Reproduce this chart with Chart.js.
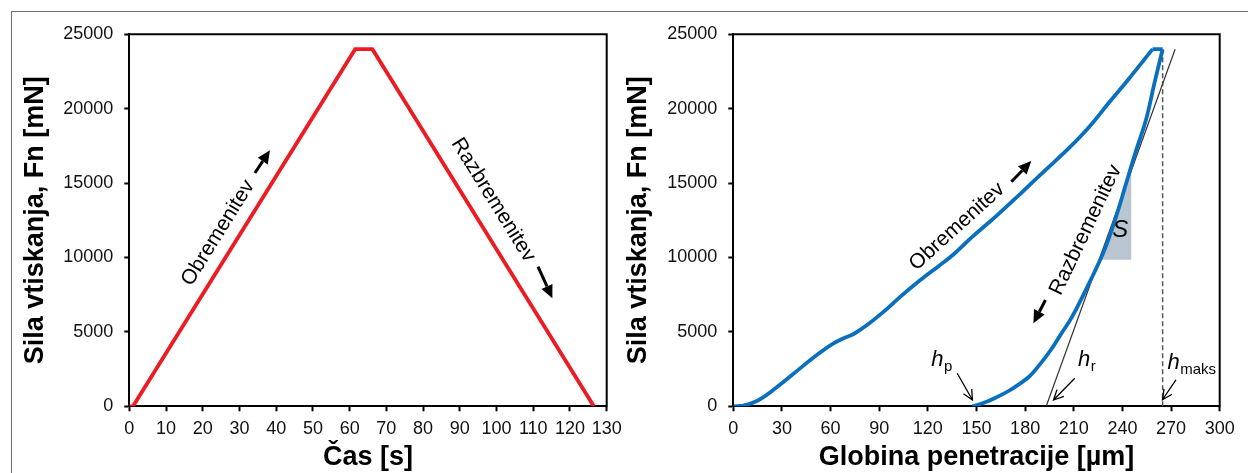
<!DOCTYPE html>
<html><head><meta charset="utf-8">
<script src="https://cdn.jsdelivr.net/npm/chart.js@4"></script>
<style>
html,body{margin:0;padding:0;background:#fff;}
#wrap{position:relative;width:1248px;height:473px;overflow:hidden;background:#fff;}
#frame{position:absolute;left:11px;top:11px;width:1400px;height:700px;border:1px solid #707070;}
.cv{position:absolute;top:0;}
</style></head><body>
<div id="wrap"><div id="frame"></div>
<canvas id="c1" class="cv" width="622" height="473" style="left:0;width:622px;height:473px"></canvas>
<canvas id="c2" class="cv" width="626" height="473" style="left:622px;width:626px;height:473px"></canvas>
</div>
<script>
// ---------------- data ----------------
const timeS        = [0, 1, 61.5, 66.2, 126.5];
const forceTimeMN  = [0, 0, 24000, 24000, 0];
const timeTicks    = [0,10,20,30,40,50,60,70,80,90,100,110,120,130];
const forceTicks   = [0,5000,10000,15000,20000,25000];
const depthTicks   = [0,30,60,90,120,150,180,210,240,270,300];

const loadDepthUm  = [0, 6, 12.4, 18.6, 24, 29.9, 41.2, 51.5, 61.8, 68, 74.2, 82.5, 92.8, 103.1, 115, 127, 135.2, 147.5, 162.3, 177.2, 192, 206.8, 219.2, 231.5, 243.9, 258.6];
const loadForceMN  = [0, 40, 250, 620, 1050, 1545, 2550, 3450, 4230, 4570, 4860, 5460, 6360, 7370, 8450, 9450, 10150, 11400, 12800, 14300, 15820, 17330, 18740, 20380, 22000, 24000];
const holdDepthUm  = [258.6, 264.8];
const holdForceMN  = [24000, 24000];
const unloadDepthUm= [264.8, 259.5, 254.5, 248.5, 242.3, 236.1, 228.9, 219.4, 209, 201.8, 195.8, 188.6, 182.4, 170.8, 162.2, 155, 147.5];
const unloadForceMN= [24000, 21600, 19240, 17224, 14987, 12743, 10504, 8266, 6022, 4800, 3784, 2750, 1989, 1095, 600, 250, 0];
const tangentDepthUm = [193, 272.5];
const tangentForceMN = [0, 24000];
const hmaxDepthUm  = [264.8, 264.8];
const hmaxForceMN  = [0, 24000];
const stiffDepthUm = [226.6, 245.6];
const stiffForceMN = [9850, 15880];
const stiffBaseMN  = 9850;

// ---------------- helpers ----------------
const FONT = "'Liberation Sans', Arial, Helvetica, sans-serif";
const pts = (xs, ys) => xs.map((x, i) => ({x: x, y: ys[i]}));

function axisX(min, max, tickVals, title, height) {
  return {
    type: 'linear', position: 'bottom', min: min, max: max,
    afterBuildTicks: s => { s.ticks = tickVals.map(v => ({value: v})); },
    afterFit: s => { s.height = height; s.paddingLeft = 0; s.paddingRight = 0; },
    ticks: { autoSkip: false, maxRotation: 0, padding: 7, color: '#111', font: {family: FONT, size: 18}, callback: v => String(v) },
    grid: { display: true, drawOnChartArea: false, drawTicks: true, tickLength: 5, tickWidth: 2, tickColor: '#000' },
    border: { display: true, color: '#000', width: 2 },
    title: { display: true, text: title, color: '#000', font: {family: FONT, size: 27, weight: 'bold', lineHeight: 1}, padding: {top: 0, bottom: 2} }
  };
}
function axisY(min, max, tickVals, title, width, titlePad) {
  return {
    type: 'linear', position: 'left', min: min, max: max,
    afterBuildTicks: s => { s.ticks = tickVals.map(v => ({value: v})); },
    afterFit: s => { s.width = width; },
    ticks: { autoSkip: false, padding: 11, color: '#111', font: {family: FONT, size: 18}, callback: v => String(v) },
    grid: { display: true, drawOnChartArea: false, drawTicks: true, tickLength: 5, tickWidth: 2, tickColor: '#000' },
    border: { display: true, color: '#000', width: 2 },
    title: { display: true, text: title, color: '#000', font: {family: FONT, size: 27, weight: 'bold', lineHeight: 1}, padding: {top: titlePad, bottom: 0} }
  };
}

const boxPlugin = {
  id: 'box',
  afterDraw(chart) {
    const {ctx, chartArea: a} = chart;
    ctx.save(); ctx.strokeStyle = '#000'; ctx.lineWidth = 2;
    ctx.beginPath(); ctx.moveTo(a.left - 1, a.top); ctx.lineTo(a.right, a.top); ctx.lineTo(a.right, a.bottom + 1); ctx.stroke();
    ctx.restore();
  }
};

function P(chart, x, y) { return [chart.scales.x.getPixelForValue(x), chart.scales.y.getPixelForValue(y)]; }
function rotText(ctx, text, x, y, ang, font) {
  ctx.save(); ctx.translate(x, y); ctx.rotate(ang); ctx.font = font; ctx.fillStyle = '#000';
  ctx.textAlign = 'center'; ctx.textBaseline = 'middle'; ctx.fillText(text, 0, 0); ctx.restore();
}
function filledArrow(ctx, p1, p2, headLen, headHalf, shaftW) {
  const [x1, y1] = p1, [x2, y2] = p2;
  const a = Math.atan2(y2 - y1, x2 - x1);
  const bx = x2 - headLen * Math.cos(a), by = y2 - headLen * Math.sin(a);
  ctx.save(); ctx.strokeStyle = '#000'; ctx.fillStyle = '#000'; ctx.lineWidth = shaftW;
  ctx.beginPath(); ctx.moveTo(x1, y1); ctx.lineTo(bx, by); ctx.stroke();
  ctx.beginPath(); ctx.moveTo(x2, y2);
  ctx.lineTo(bx + headHalf * Math.sin(a), by - headHalf * Math.cos(a));
  ctx.lineTo(bx - headHalf * Math.sin(a), by + headHalf * Math.cos(a));
  ctx.closePath(); ctx.fill(); ctx.restore();
}
function openArrow(ctx, p1, p2, headLen, spread) {
  const [x1, y1] = p1, [x2, y2] = p2;
  const a = Math.atan2(y2 - y1, x2 - x1);
  ctx.save(); ctx.strokeStyle = '#000'; ctx.lineWidth = 1.3;
  ctx.beginPath(); ctx.moveTo(x1, y1); ctx.lineTo(x2, y2);
  ctx.moveTo(x2 - headLen * Math.cos(a - spread), y2 - headLen * Math.sin(a - spread));
  ctx.lineTo(x2, y2);
  ctx.lineTo(x2 - headLen * Math.cos(a + spread), y2 - headLen * Math.sin(a + spread));
  ctx.stroke(); ctx.restore();
}
function hLabel(ctx, x, y, sub) {
  ctx.save(); ctx.fillStyle = '#000'; ctx.textAlign = 'left'; ctx.textBaseline = 'alphabetic';
  ctx.font = 'italic 22px ' + FONT; ctx.fillText('h', x, y);
  const w = ctx.measureText('h').width;
  ctx.font = '15px ' + FONT; ctx.fillText(sub, x + w + 0.5, y + 5);
  ctx.restore();
}

const annot1 = {
  id: 'annot1',
  afterDatasetsDraw(chart) {
    const ctx = chart.ctx;
    const a1 = P(chart, timeS[1], forceTimeMN[1]), a2 = P(chart, timeS[2], forceTimeMN[2]);
    const b1 = P(chart, timeS[3], forceTimeMN[3]), b2 = P(chart, timeS[4], forceTimeMN[4]);
    const angUp = Math.atan2(a2[1] - a1[1], a2[0] - a1[0]);
    const angDn = Math.atan2(b2[1] - b1[1], b2[0] - b1[0]);
    const f = '21px ' + FONT;
    const t1 = P(chart, 24.2, 11650); rotText(ctx, 'Obremenitev', t1[0], t1[1], angUp, f);
    filledArrow(ctx, P(chart, 34.2, 15680), P(chart, 38.3, 17200), 13, 6, 3);
    const t2 = P(chart, 99.1, 13865); rotText(ctx, 'Razbremenitev', t2[0], t2[1], angDn, f);
    filledArrow(ctx, P(chart, 111.3, 9380), P(chart, 115.2, 7260), 13, 6, 3);
  }
};

const annot2 = {
  id: 'annot2',
  afterDatasetsDraw(chart) {
    const ctx = chart.ctx;
    const f = '21px ' + FONT;
    const t1 = P(chart, 138, 12070); rotText(ctx, 'Obremenitev', t1[0], t1[1], -42 * Math.PI / 180, f);
    filledArrow(ctx, P(chart, 171.5, 15090), P(chart, 183.8, 16480), 13, 6, 3);
    const t2 = P(chart, 217.4, 11850); rotText(ctx, 'Razbremenitev', t2[0], t2[1], -64.5 * Math.PI / 180, f);
    filledArrow(ctx, P(chart, 192.5, 7140), P(chart, 185.1, 5580), 13, 6, 3);
    const s = P(chart, 238.6, 11850);
    ctx.save(); ctx.font = 'italic 24px ' + FONT; ctx.fillStyle = '#000'; ctx.textAlign = 'center'; ctx.textBaseline = 'middle';
    ctx.fillText('S', s[0], s[1]); ctx.restore();
    const hp = P(chart, 122.1, 2700); hLabel(ctx, hp[0], hp[1], 'p');
    openArrow(ctx, P(chart, 138.1, 2220), P(chart, 147.5, 420), 11, 0.45);
    const hr = P(chart, 212.6, 2700); hLabel(ctx, hr[0], hr[1], 'r');
    openArrow(ctx, P(chart, 210.6, 1880), P(chart, 197.5, 420), 11, 0.45);
    const hm = P(chart, 267.8, 2500); hLabel(ctx, hm[0], hm[1], 'maks');
    openArrow(ctx, P(chart, 273, 1780), P(chart, 264.7, 440), 11, 0.45);
  }
};

const RED = '#ec1c24', BLUE = '#0a6fbd';

new Chart(document.getElementById('c1'), {
  type: 'line',
  data: { datasets: [
    { data: pts(timeS, forceTimeMN), borderColor: RED, borderWidth: 3.8, pointRadius: 0, tension: 0, borderJoinStyle: 'miter' }
  ]},
  options: {
    responsive: false, animation: false, devicePixelRatio: 1,
    layout: { padding: { left: 0, top: 34.3, right: 15.3, bottom: 0 } },
    plugins: { legend: { display: false }, tooltip: { enabled: false } },
    scales: {
      x: axisX(0, 130, timeTicks, 'Čas [s]', 66.7),
      y: axisY(0, 25000, forceTicks, 'Sila vtiskanja, Fn [mN]', 129.3, 21.7)
    }
  },
  plugins: [boxPlugin, annot1]
});

new Chart(document.getElementById('c2'), {
  type: 'line',
  data: { datasets: [
    { data: pts(loadDepthUm, loadForceMN), borderColor: BLUE, borderWidth: 3.8, pointRadius: 0, tension: 0.4 },
    { data: pts(holdDepthUm, holdForceMN), borderColor: BLUE, borderWidth: 3.8, pointRadius: 0, tension: 0 },
    { data: pts(unloadDepthUm, unloadForceMN), borderColor: BLUE, borderWidth: 3.8, pointRadius: 0, tension: 0.4 },
    { data: pts(tangentDepthUm, tangentForceMN), borderColor: '#333', borderWidth: 1.2, pointRadius: 0, tension: 0 },
    { data: pts(hmaxDepthUm, hmaxForceMN), borderColor: '#555', borderWidth: 1.5, borderDash: [5, 3], pointRadius: 0, tension: 0 },
    { data: pts(stiffDepthUm, stiffForceMN), borderColor: 'rgba(0,0,0,0)', borderWidth: 0, backgroundColor: '#b9c6d2', fill: {value: stiffBaseMN}, pointRadius: 0, tension: 0 }
  ]},
  options: {
    responsive: false, animation: false, devicePixelRatio: 1,
    layout: { padding: { left: 0, top: 34.3, right: 28.3, bottom: 0 } },
    plugins: { legend: { display: false }, tooltip: { enabled: false } },
    scales: {
      x: axisX(0, 300, depthTicks, 'Globina penetracije [µm]', 66.7),
      y: axisY(0, 25000, forceTicks, 'Sila vtiskanja, Fn [mN]', 111.3, 2.8)
    }
  },
  plugins: [boxPlugin, annot2]
});
</script>
</body></html>
